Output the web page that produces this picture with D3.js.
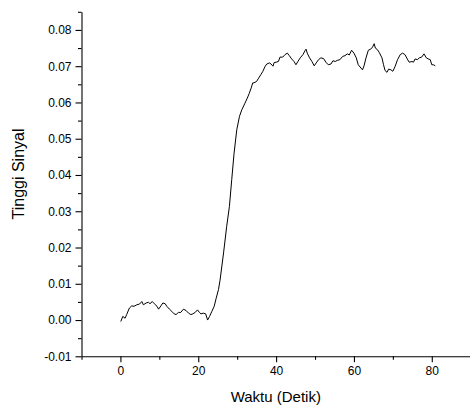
<!DOCTYPE html>
<html>
<head>
<meta charset="utf-8">
<script src="https://cdn.jsdelivr.net/npm/d3@7"></script>
<style>
  html, body { margin: 0; padding: 0; background: #fff; }
  svg { display: block; }
  text { font-family: "Liberation Sans", Arial, sans-serif; fill: #000; }
</style>
</head>
<body>
<svg id="chart" width="470" height="405"></svg>
<script>
// ---- data ----
const timeValues = [
  0.1, 0.6, 1.2, 1.6, 2.3, 2.9, 3.5, 4.2, 4.9, 5.5, 5.9, 6.6, 7.2, 7.6, 8.2, 8.7, 9.4, 9.8,
  10.4, 10.9, 11.5, 11.9, 12.6, 13.2, 13.8, 14.3, 14.9, 15.5, 16.2, 16.9, 17.5, 18.1, 18.6,
  19.2, 19.8, 20.3, 20.7, 21.3, 21.9, 22.4, 22.9, 23.5, 24.1, 24.6, 25.2, 25.6, 26.5, 27.3,
  28.0, 28.6, 29.2, 29.9, 30.6, 31.2, 32.0, 32.6, 33.1, 33.6, 34.0, 34.3, 35.0, 35.5, 36.1,
  36.6, 37.2, 37.6, 38.3, 38.7, 39.2, 39.5, 40.0, 40.6, 41.0, 41.7, 42.3, 42.9, 43.4, 44.0,
  44.6, 45.1, 45.6, 46.2, 46.9, 47.5, 47.7, 48.0, 48.6, 49.2, 49.8, 50.3, 50.9, 51.5, 52.2,
  52.8, 53.4, 54.1, 54.6, 55.2, 55.7, 56.4, 57.1, 57.7, 58.3, 58.8, 59.4, 60.0, 60.6, 61.1,
  61.8, 62.2, 62.6, 63.1, 63.7, 64.3, 64.8, 65.2, 65.5, 66.0, 66.5, 67.2, 67.6, 68.0, 68.5,
  68.9, 69.5, 70.0, 70.6, 71.2, 71.9, 72.5, 73.1, 73.7, 74.2, 74.9, 75.3, 75.7, 76.3, 76.8,
  77.4, 78.0, 78.6, 79.1, 79.6, 80.0, 80.4, 80.9
];
const signalValues = [
  -0.0004, 0.0010, 0.0005, 0.0015, 0.0033, 0.0039, 0.0038, 0.0042, 0.0044, 0.0051, 0.0042, 0.0047, 0.0049, 0.0045, 0.0051, 0.0045, 0.0038, 0.0030,
  0.0039, 0.0047, 0.0045, 0.0038, 0.0030, 0.0024, 0.0017, 0.0015, 0.0021, 0.0021, 0.0030, 0.0026, 0.0019, 0.0015, 0.0017,
  0.0021, 0.0028, 0.0021, 0.0017, 0.0019, 0.0017, 0.0000, 0.0010, 0.0024, 0.0038, 0.0060, 0.0084, 0.0110, 0.0185, 0.0258,
  0.0313, 0.0387, 0.0460, 0.0525, 0.0562, 0.0580, 0.0598, 0.0612, 0.0625, 0.0640, 0.0654, 0.0654, 0.0658, 0.0667, 0.0677,
  0.0686, 0.0700, 0.0706, 0.0709, 0.0706, 0.0700, 0.0710, 0.0711, 0.0713, 0.0725, 0.0725, 0.0732, 0.0736, 0.0729, 0.0720,
  0.0713, 0.0704, 0.0713, 0.0723, 0.0732, 0.0744, 0.0747, 0.0736, 0.0723, 0.0713, 0.0701, 0.0709, 0.0718, 0.0723, 0.0721,
  0.0711, 0.0704, 0.0706, 0.0715, 0.0713, 0.0716, 0.0718, 0.0727, 0.0729, 0.0734, 0.0731, 0.0744, 0.0736, 0.0723, 0.0704,
  0.0695, 0.0690, 0.0701, 0.0723, 0.0744, 0.0747, 0.0753, 0.0762, 0.0750, 0.0746, 0.0738, 0.0723, 0.0704, 0.0688, 0.0683,
  0.0692, 0.0690, 0.0686, 0.0700, 0.0718, 0.0732, 0.0736, 0.0732, 0.0720, 0.0711, 0.0713, 0.0711, 0.0720, 0.0718, 0.0723,
  0.0725, 0.0734, 0.0723, 0.0720, 0.0718, 0.0704, 0.0704, 0.0701
];
const xMajorTicks = [0, 20, 40, 60, 80];
const xMajorLabels = ["0", "20", "40", "60", "80"];
const xMinorTicks = [-10, 10, 30, 50, 70, 90];
const yMajorTicks = [-0.01, 0.00, 0.01, 0.02, 0.03, 0.04, 0.05, 0.06, 0.07, 0.08];
const yMajorLabels = ["-0.01", "0.00", "0.01", "0.02", "0.03", "0.04", "0.05", "0.06", "0.07", "0.08"];
const yMinorTicks = [-0.005, 0.005, 0.015, 0.025, 0.035, 0.045, 0.055, 0.065, 0.075, 0.085];
const xTitle = "Waktu (Detik)";
const yTitle = "Tinggi Sinyal";

// ---- layout ----
const svg = d3.select("#chart");
const mLeft = 81.5, mRight = 470.7, mTop = 11.8, mBottom = 356.3;

const x = d3.scaleLinear().domain([-10, 90]).range([mLeft, mRight]);
const y = d3.scaleLinear().domain([-0.01, 0.085]).range([mBottom, mTop]);

// X axis
const xMajor = d3.axisBottom(x).tickValues(xMajorTicks)
  .tickFormat((d, i) => xMajorLabels[i]).tickSize(6).tickSizeOuter(0).tickPadding(4);
const gx = svg.append("g").attr("transform", `translate(0,${mBottom})`).call(xMajor);
gx.selectAll("text").style("font-size", "12px");
const xMinor = d3.axisBottom(x).tickValues(xMinorTicks).tickFormat("").tickSize(3.5).tickSizeOuter(0);
const gx2 = svg.append("g").attr("transform", `translate(0,${mBottom})`).call(xMinor);
gx2.select(".domain").remove();

// Y axis
const yMajor = d3.axisLeft(y).tickValues(yMajorTicks)
  .tickFormat((d, i) => yMajorLabels[i]).tickSize(6).tickSizeOuter(0).tickPadding(4);
const gy = svg.append("g").attr("transform", `translate(${mLeft},0)`).call(yMajor);
gy.selectAll("text").style("font-size", "12px");
const yMinor = d3.axisLeft(y).tickValues(yMinorTicks).tickFormat("").tickSize(3.5).tickSizeOuter(0);
const gy2 = svg.append("g").attr("transform", `translate(${mLeft},0)`).call(yMinor);
gy2.select(".domain").remove();

svg.selectAll(".domain, .tick line").attr("stroke", "#000").attr("stroke-width", 1.1);

// Titles
svg.append("text")
  .attr("x", (mLeft + mRight) / 2 - 0.3)
  .attr("y", 402)
  .attr("text-anchor", "middle")
  .style("font-size", "15px")
  .text(xTitle);

svg.append("text")
  .attr("transform", `translate(24,174) rotate(-90)`)
  .attr("text-anchor", "middle")
  .style("font-size", "16px")
  .text(yTitle);

// Line
const pts = timeValues.map((t, i) => [t, signalValues[i]]);
const line = d3.line().x(d => x(d[0])).y(d => y(d[1]));
svg.append("path")
  .datum(pts)
  .attr("fill", "none")
  .attr("stroke", "#000")
  .attr("stroke-width", 1)
  .attr("stroke-linejoin", "round")
  .attr("d", line);
</script>
</body>
</html>
